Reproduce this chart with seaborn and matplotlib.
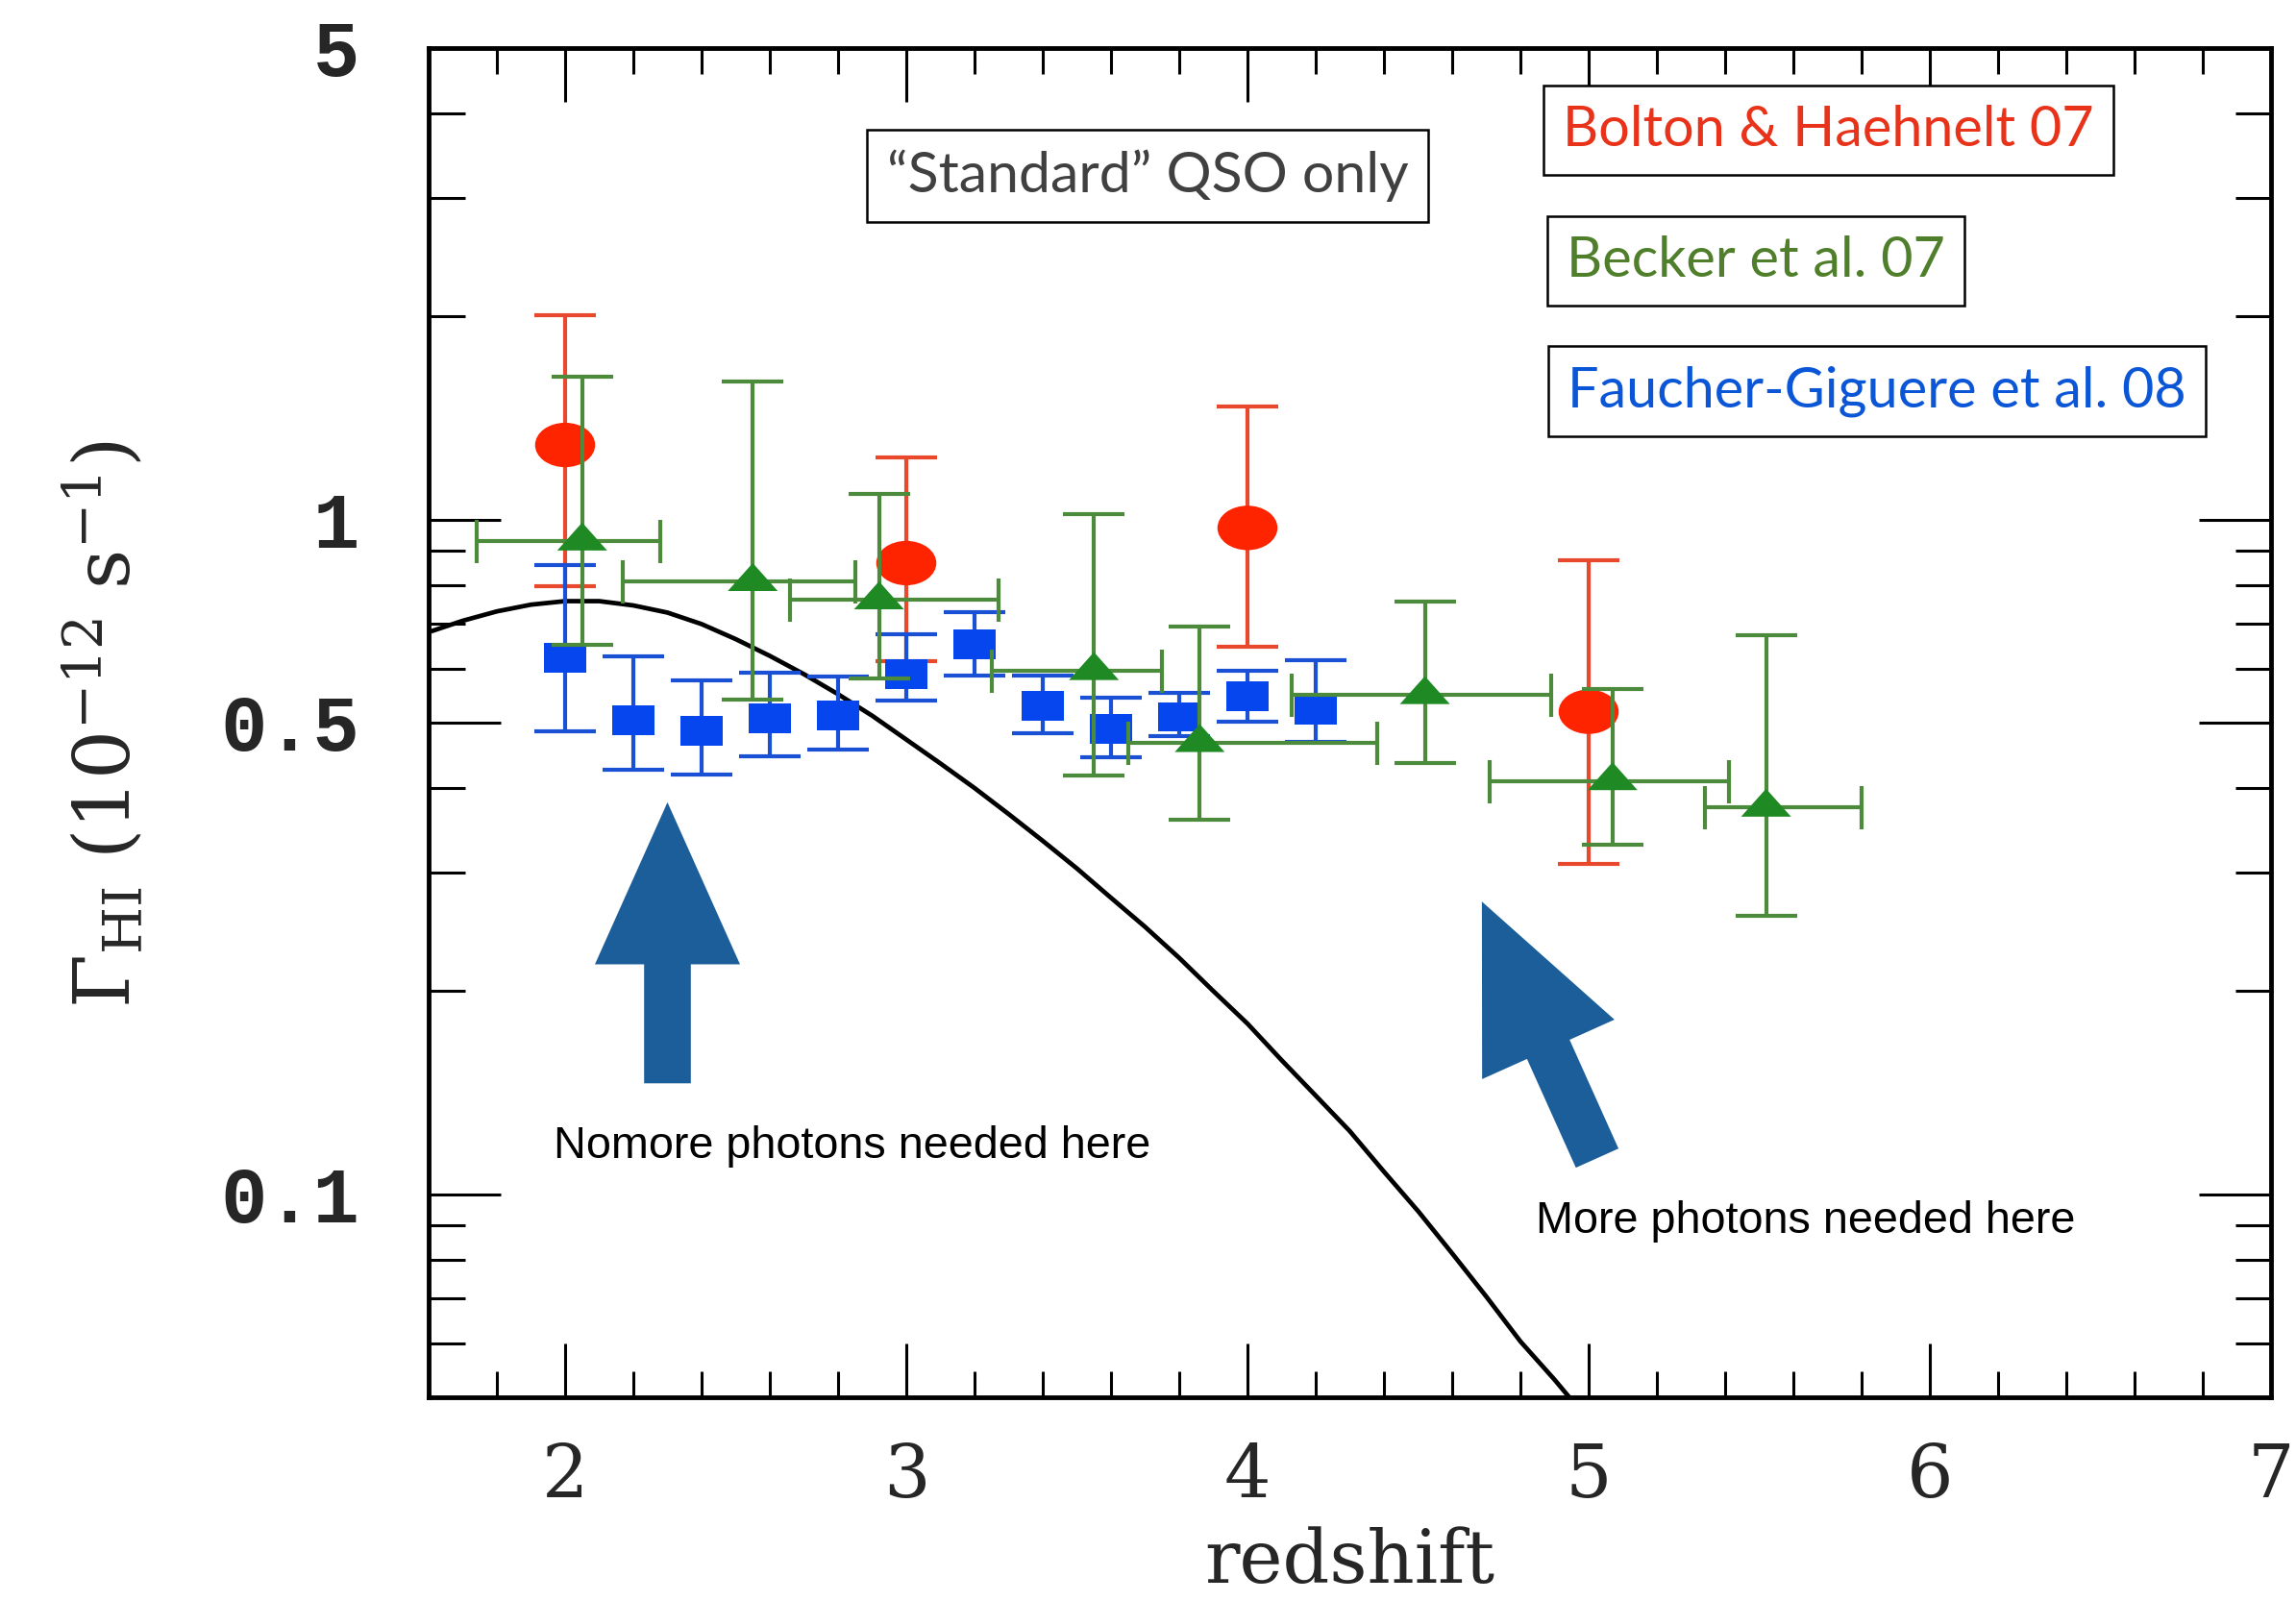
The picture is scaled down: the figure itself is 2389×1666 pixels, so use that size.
import numpy as np
import matplotlib
matplotlib.use('Agg')
import matplotlib.pyplot as plt
from matplotlib.path import Path
from matplotlib.ticker import LogLocator, MultipleLocator, NullFormatter
import seaborn as sns

# model curve ("standard" QSO only)
curve_z = [1.6, 1.7, 1.8, 1.9, 2.0, 2.1, 2.2, 2.3, 2.4, 2.5, 2.6, 2.7, 2.8, 2.9, 3.0, 3.1, 3.2, 3.3,
           3.4, 3.5, 3.6, 3.7, 3.8, 3.9, 4.0, 4.1, 4.2, 4.3, 4.4, 4.5, 4.6, 4.7, 4.8, 4.9, 5.0]
curve_gamma = [0.681, 0.708, 0.731, 0.748, 0.757, 0.757, 0.746, 0.728, 0.700, 0.665, 0.628, 0.590,
               0.551, 0.512, 0.472, 0.435, 0.400, 0.366, 0.334, 0.304, 0.275, 0.249, 0.224, 0.200,
               0.179, 0.158, 0.140, 0.124, 0.108, 0.0944, 0.0817, 0.0705, 0.0605, 0.0531, 0.0462]

# Bolton & Haehnelt 07
bolton_z = [2.0, 3.0, 4.0, 5.0]
bolton_g = [1.29, 0.862, 0.972, 0.519]
bolton_lo = [0.797, 0.616, 0.648, 0.309]
bolton_hi = [2.01, 1.235, 1.47, 0.871]

# Becker et al. 07
becker_z = [2.05, 2.55, 2.92, 3.55, 3.86, 4.52, 5.07, 5.52]
becker_g = [0.929, 0.809, 0.760, 0.597, 0.467, 0.550, 0.410, 0.3745]
becker_lo = [0.653, 0.541, 0.582, 0.418, 0.359, 0.435, 0.330, 0.259]
becker_hi = [1.63, 1.60, 1.09, 1.02, 0.693, 0.755, 0.560, 0.674]
becker_zlo = [1.74, 2.17, 2.66, 3.25, 3.65, 4.13, 4.71, 5.34]
becker_zhi = [2.28, 2.85, 3.27, 3.75, 4.38, 4.89, 5.41, 5.80]

# Faucher-Giguere et al. 08
fg_z = [2.0, 2.2, 2.4, 2.6, 2.8, 3.0, 3.2, 3.4, 3.6, 3.8, 4.0, 4.2]
fg_g = [0.624, 0.504, 0.486, 0.508, 0.513, 0.590, 0.654, 0.530, 0.489, 0.510, 0.547, 0.523]
fg_lo = [0.486, 0.426, 0.419, 0.446, 0.456, 0.540, 0.588, 0.483, 0.444, 0.478, 0.501, 0.469]
fg_hi = [0.855, 0.628, 0.578, 0.593, 0.586, 0.677, 0.730, 0.588, 0.545, 0.554, 0.596, 0.618]

sns.set_theme(style='ticks')
plt.rcParams['font.family'] = ['DejaVu Serif']
plt.rcParams['mathtext.fontset'] = 'dejavuserif'

W, H = 2389, 1666
fig = plt.figure(figsize=(W / 100, H / 100), dpi=100)
fig.patch.set_facecolor('white')
ax = fig.add_axes([446 / W, 1 - 1454 / H, (2363 - 446) / W, (1454 - 50) / H])
ax.set_facecolor('white')

# marker shapes (the original is stretched sideways)
circ = Path.unit_circle()
ellipse = Path(circ.vertices * np.array([1.0, 0.74]), circ.codes)
rect = Path([(-0.5, -0.35), (0.5, -0.35), (0.5, 0.35), (-0.5, 0.35), (-0.5, -0.35)], closed=True)
tri = Path([(-0.5, -0.187), (0.5, -0.187), (0.0, 0.373), (-0.5, -0.187)], closed=True)

red_bar, red_mk = '#e8492c', '#ff2400'
blue_bar, blue_mk = '#1a50d4', '#0646ee'
green_bar, green_mk = '#4c8a3c', '#1f8a24'

sns.lineplot(x=curve_z, y=curve_gamma, color='black', lw=3.4, ax=ax, zorder=1.5)

def yerr(g, lo, hi):
    g = np.array(g)
    return [g - np.array(lo), np.array(hi) - g]

ax.errorbar(bolton_z, bolton_g, yerr=yerr(bolton_g, bolton_lo, bolton_hi), fmt='none',
            ecolor=red_bar, elinewidth=3, capsize=22.7, capthick=3, zorder=2)
sns.scatterplot(x=bolton_z, y=bolton_g, marker=ellipse, s=45 ** 2, color=red_mk,
                edgecolor='none', linewidth=0, ax=ax, zorder=3)

ax.errorbar(fg_z, fg_g, yerr=yerr(fg_g, fg_lo, fg_hi), fmt='none',
            ecolor=blue_bar, elinewidth=3, capsize=22.7, capthick=3, zorder=4)
sns.scatterplot(x=fg_z, y=fg_g, marker=rect, s=31.7 ** 2, color=blue_mk,
                edgecolor='none', linewidth=0, ax=ax, zorder=5)

bz = np.array(becker_z)
ax.errorbar(becker_z, becker_g, yerr=yerr(becker_g, becker_lo, becker_hi), fmt='none',
            ecolor=green_bar, elinewidth=3, capsize=22.7, capthick=3, zorder=6)
ax.errorbar(becker_z, becker_g, xerr=[bz - np.array(becker_zlo), np.array(becker_zhi) - bz],
            fmt='none', ecolor=green_bar, elinewidth=3, capsize=16.2, capthick=3, zorder=6)
sns.scatterplot(x=becker_z, y=becker_g, marker=tri, s=37.4 ** 2, color=green_mk,
                edgecolor='none', linewidth=0, ax=ax, zorder=7)

ax.set_yscale('log')
ax.set_xlim(1.6, 7.0)
ax.set_ylim(0.05, 5)

ax.set_xticks([2, 3, 4, 5, 6, 7])
ax.set_xticklabels(['2', '3', '4', '5', '6', '7'], fontsize=55, family='DejaVu Serif')
ax.xaxis.set_minor_locator(MultipleLocator(0.2))
ax.set_yticks([0.1, 0.5, 1, 5])
ax.set_yticklabels(['0.1', '0.5', '1', '5'], fontsize=58, family='Liberation Mono', weight='bold')
ax.yaxis.set_minor_locator(LogLocator(base=10, subs=np.arange(2, 10)))
ax.yaxis.set_minor_formatter(NullFormatter())

ax.tick_params(axis='both', which='both', direction='in', top=True, right=True, color='black')
ax.tick_params(axis='x', which='major', length=40, width=2.2, pad=33)
ax.tick_params(axis='x', which='minor', length=19.5, width=2.2)
ax.tick_params(axis='y', which='major', length=54, width=2.2, pad=52)
ax.tick_params(axis='y', which='minor', length=27, width=2.2)
for sp in ax.spines.values():
    sp.set_linewidth(3.5)
    sp.set_color('black')
    sp.set_visible(True)

ax.set_xlabel('redshift', fontsize=55)
ax.xaxis.set_label_coords(0.5, -0.096)
ax.set_ylabel(r'$\Gamma_{\rm HI}\ (10^{-12}\ {\rm s}^{-1})$', fontsize=58)
ax.yaxis.set_label_coords(-0.153, 0.4986)

# arrows
arrow_color = '#1c5e9a'
style = 'simple,head_length=1.214,head_width=1.087,tail_width=0.35'
ax.annotate('', xy=(2.30, 0.381), xytext=(2.30, 0.146),
            arrowprops=dict(arrowstyle=style, mutation_scale=100, color=arrow_color,
                            lw=0, shrinkA=0, shrinkB=0), zorder=8)
ax.annotate('', xy=(4.687, 0.2715), xytext=(5.025, 0.1131),
            arrowprops=dict(arrowstyle=style, mutation_scale=100, color=arrow_color,
                            lw=0, shrinkA=0, shrinkB=0), zorder=8)

ax.text(1.967, 0.1133, 'Nomore photons needed here', fontsize=33.7,
        family='Liberation Sans', color='black', va='baseline', ha='left')
ax.text(4.844, 0.0877, 'More photons needed here', fontsize=33.7,
        family='Liberation Sans', color='black', va='baseline', ha='left')

# boxed labels
box = dict(boxstyle='square,pad=0.35', fc='white', ec='black', lw=1.8)
fig.text(1626 / W, 1 - 151.7 / H, 'Bolton & Haehnelt 07', fontsize=41.5, family='Lato',
         color='#e8321a', va='baseline', ha='left', bbox=box)
fig.text(1629.8 / W, 1 - 288.3 / H, 'Becker et al. 07', fontsize=41.5, family='Lato',
         color='#4f7f2a', va='baseline', ha='left', bbox=box)
fig.text(1631.4 / W, 1 - 423.3 / H, 'Faucher-Giguere et al. 08', fontsize=41.5, family='Lato',
         color='#0a56d6', va='baseline', ha='left', bbox=box)
fig.text(922.9 / W, 1 - 200 / H, '\u201cStandard\u201d QSO only', fontsize=42.5, family='Lato',
         color='#404040', va='baseline', ha='left', bbox=box)

fig.savefig('out.png', dpi=100, facecolor='white')
